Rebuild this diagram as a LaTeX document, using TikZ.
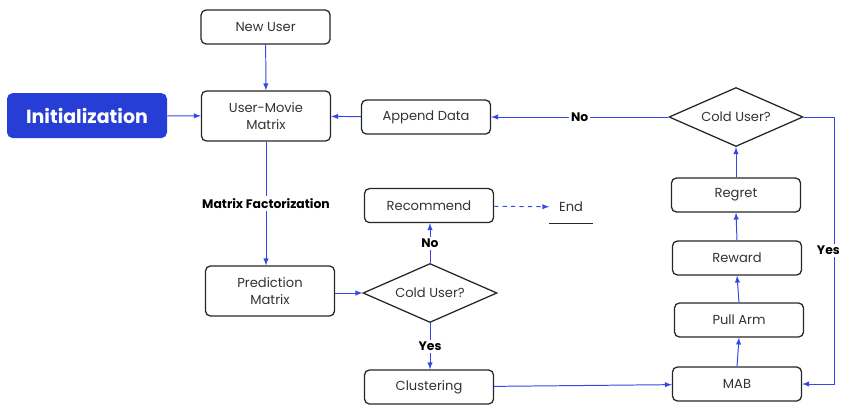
\documentclass[tikz,border=0pt]{standalone}
\usepackage{fontspec}
\setmainfont{Poppins}
\usepackage{tikz}
\usetikzlibrary{arrows,calc,positioning,shapes}
\definecolor{initblue}{RGB}{38,62,214}
\definecolor{lineblue}{RGB}{52,72,232}
\tikzset{
  box/.style={draw=black!85, line width=0.9pt, rounded corners=3.5pt, minimum width=3.225cm,
    minimum height=0.85cm, align=center, text=black!80, font=\fontsize{9.3}{12}\selectfont},
  tallbox/.style={box, minimum height=1.25cm},
  colduser/.style={diamond, draw=black!85, line width=0.9pt, aspect=2.3, inner sep=0pt,
    minimum width=3.35cm, minimum height=1.475cm, text=black!80, font=\fontsize{9.3}{12}\selectfont},
  flow/.style={draw=lineblue, line width=0.7pt, -latex},
  lbl/.style={fill=white, inner sep=1.5pt, font=\fontsize{8.8}{11}\selectfont\bfseries}
}
\begin{document}
\begin{tikzpicture}
		\useasboundingbox (0,0) rectangle (21.05,-10.1);
		% left column
		\node[box] (newuser) at (6.64,-0.675) {New User};
		\node[tallbox] (usermovie) at (6.65,-2.9) {User-Movie\\Matrix};
		\node[fill=initblue, rounded corners=4pt, minimum width=4cm, minimum height=1.125cm, text=white,
		  font=\fontsize{13.5}{16}\selectfont\bfseries] (init) at (2.175,-2.89) {Initialization};
		\node[tallbox] (predmatrix) at (6.75,-7.275) {Prediction\\Matrix};
		% middle column
		\node[box] (append) at (10.65,-2.925) {Append Data};
		\node[box] (recommend) at (10.725,-5.14) {Recommend};
		\node[colduser] (coldlow) at (10.75,-7.325) {Cold User?};
		\node[box] (cluster) at (10.725,-9.675) {Clustering};
		\node[minimum width=1.075cm, minimum height=0.8cm, text=black!80,
		  font=\fontsize{9.3}{12}\selectfont] (endnode) at (14.275,-5.175) {End};
		\draw[black!85, line width=0.9pt] (endnode.south west) -- (endnode.south east);
		% right column
		\node[colduser] (coldtop) at (18.4,-2.925) {Cold User?};
		\node[box] (regret) at (18.4,-4.875) {Regret};
		\node[box] (reward) at (18.425,-6.45) {Reward};
		\node[box] (pullarm) at (18.475,-8.0) {Pull Arm};
		\node[box] (mab) at (18.425,-9.6) {MAB};
		\coordinate (turn) at (20.85,-2.925);
		% connectors
		\draw[flow] (newuser) -- (usermovie);
		\draw[flow] (init) -- (usermovie);
		\draw[flow] (append) -- (usermovie);
		\draw[flow] (usermovie.south) -- node[lbl]{Matrix Factorization} (usermovie.south |- predmatrix.north);
		\draw[flow] (predmatrix.east |- coldlow.west) -- (coldlow.west);
		\draw[flow] (coldlow.north) -- node[lbl]{No} (recommend.south -| coldlow.north);
		\draw[flow] (coldlow.south) -- node[lbl]{Yes} (cluster.north -| coldlow.south);
		\draw[flow, dashed] (recommend) -- (endnode);
		\draw[flow] (cluster) -- (mab);
		\draw[flow] (mab.north) -- (pullarm.south);
		\draw[flow] (pullarm.north) -- (reward.south);
		\draw[flow] (reward.north) -- (regret.south);
		\draw[flow] (regret) -- (coldtop);
		\draw[flow] (coldtop) -- node[lbl]{No} (append);
		\draw[flow] (coldtop.east) -- (turn) -- node[lbl, xshift=-4pt]{Yes} (turn |- mab.east) -- (mab.east);
		\end{tikzpicture}
\end{document}
